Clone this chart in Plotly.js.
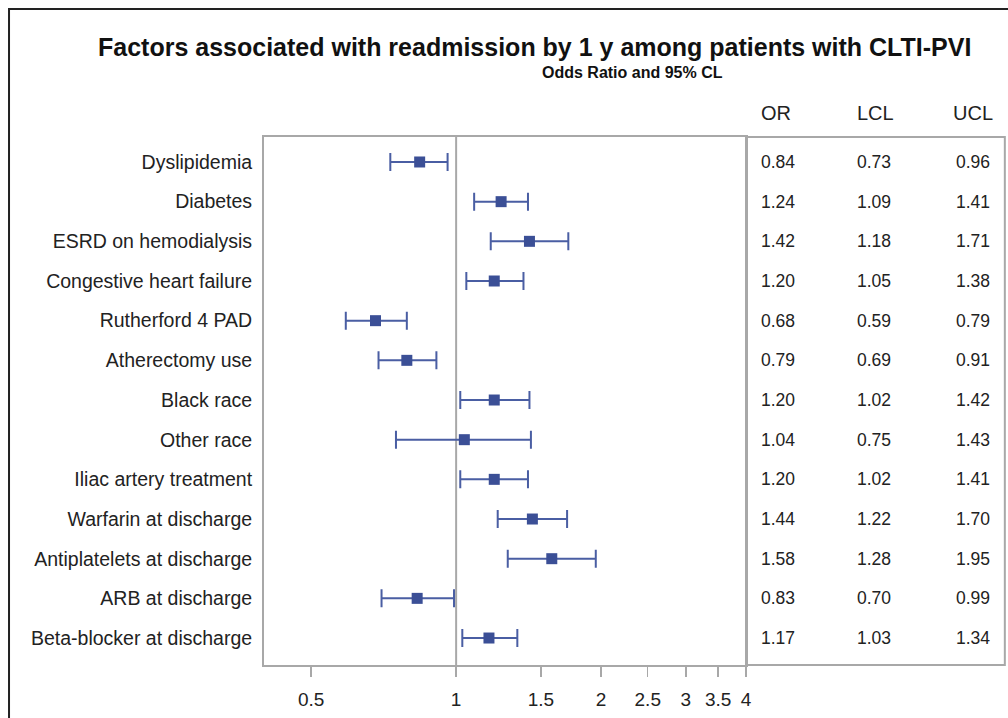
<!DOCTYPE html>
<html>
<head>
<meta charset="utf-8">
<script src="https://cdn.plot.ly/plotly-3.0.1.min.js"></script>
<style>
html,body{margin:0;padding:0;background:#fff;}
#chart{width:1008px;height:718px;}
</style>
</head>
<body>
<div id="chart"></div>
<script>
const factors = ["Dyslipidemia","Diabetes","ESRD on hemodialysis","Congestive heart failure","Rutherford 4 PAD","Atherectomy use","Black race","Other race","Iliac artery treatment","Warfarin at discharge","Antiplatelets at discharge","ARB at discharge","Beta-blocker at discharge"];
const orVals  = [0.84,1.24,1.42,1.20,0.68,0.79,1.20,1.04,1.20,1.44,1.58,0.83,1.17];
const lclVals = [0.73,1.09,1.18,1.05,0.59,0.69,1.02,0.75,1.02,1.22,1.28,0.70,1.03];
const uclVals = [0.96,1.41,1.71,1.38,0.79,0.91,1.42,1.43,1.41,1.70,1.95,0.99,1.34];
const xTicks = [0.5,1,1.5,2,2.5,3,3.5,4];
const xTickText = ["0.5","1","1.5","2","2.5","3","3.5","4"];
const tableHeaders = ["OR","LCL","UCL"];

const rows = factors.map((_, i) => i + 1);
const blue = "#3b4f96";
const gray = "#a8a8a8";
const font = "Liberation Sans, Arial, sans-serif";

const trace = {
  type: "scatter",
  mode: "markers",
  x: orVals,
  y: rows,
  marker: {symbol: "square", size: 11, color: blue},
  error_x: {
    type: "data", symmetric: false,
    array: orVals.map((v, i) => uclVals[i] - v),
    arrayminus: orVals.map((v, i) => v - lclVals[i]),
    color: "#4a5ea3", thickness: 2, width: 9
  },
  hoverinfo: "skip",
  cliponaxis: false
};

const fmt = v => v.toFixed(2);
const colX = [1.1058, 1.305, 1.510];
const headX = [1.0975, 1.311, 1.5166];
const annotations = [];
[orVals, lclVals, uclVals].forEach((arr, c) => {
  arr.forEach((v, i) => {
    annotations.push({
      xref: "paper", yref: "y", x: colX[c], y: rows[i],
      xanchor: "right", yanchor: "middle", showarrow: false,
      text: fmt(v), font: {family: font, size: 17.5, color: "#222"}
    });
  });
});
tableHeaders.forEach((h, c) => {
  annotations.push({
    xref: "paper", yref: "paper", x: headX[c], y: 1.0455,
    xanchor: "right", yanchor: "middle", showarrow: false,
    text: h, font: {family: font, size: 20, color: "#222"}
  });
});
annotations.push({
  xref: "paper", yref: "paper", x: 0.562, y: 1.1705,
  xanchor: "center", yanchor: "middle", showarrow: false,
  text: "<b>Factors associated with readmission by 1 y among patients with CLTI-PVI</b>",
  font: {family: font, size: 25, color: "#111"}
});
annotations.push({
  xref: "paper", yref: "paper", x: 0.7635, y: 1.123,
  xanchor: "center", yanchor: "middle", showarrow: false,
  text: "<b>Odds Ratio and 95% CL</b>",
  font: {family: font, size: 16, color: "#111"}
});

const layout = {
  width: 1008, height: 718,
  margin: {l: 264, r: 262, t: 137, b: 53},
  paper_bgcolor: "#fff", plot_bgcolor: "#fff",
  showlegend: false,
  xaxis: {
    type: "log", range: [-0.399, 0.602],
    tickvals: xTicks, ticktext: xTickText,
    ticks: "outside", ticklen: 10, tickwidth: 1.5, tickcolor: gray,
    showline: true, linecolor: gray, linewidth: 2, mirror: true,
    showgrid: false, zeroline: false, ticklabelstandoff: 6,
    tickfont: {family: font, size: 19, color: "#222"}
  },
  yaxis: {
    range: [13.68, 0.37],
    tickvals: rows, ticktext: factors,
    ticks: "", showline: true, linecolor: gray, linewidth: 2, mirror: true,
    showgrid: false, zeroline: false, ticklabelstandoff: 6,
    tickfont: {family: font, size: 19.5, color: "#222"}
  },
  shapes: [
    {type: "line", xref: "x", yref: "paper", x0: 1, x1: 1, y0: 0, y1: 1,
     line: {color: gray, width: 2}, layer: "below"},
    {type: "rect", xref: "paper", yref: "paper", x0: 1, x1: 1.537, y0: 0, y1: 1,
     line: {color: gray, width: 2}},
    {type: "rect", xref: "paper", yref: "paper", x0: -0.529, x1: 1.62, y0: -0.12, y1: 1.2424,
     line: {color: "#222", width: 2}}
  ],
  annotations: annotations
};

Plotly.newPlot("chart", [trace], layout, {staticPlot: true});
</script>
</body>
</html>
